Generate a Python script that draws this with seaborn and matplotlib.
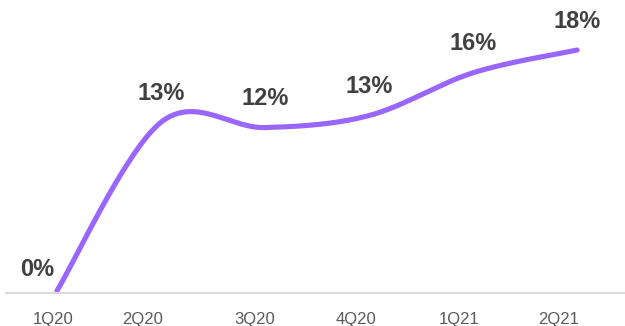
import numpy as np
import pandas as pd
import matplotlib
matplotlib.use("Agg")
import matplotlib.pyplot as plt
import seaborn as sns

# Quarterly values (%)
quarters = ["1Q20", "2Q20", "3Q20", "4Q20", "1Q21", "2Q21"]
values = [0.0, 12.6, 12.2, 13.1, 16.3, 18.0]

# Where each quarter label sits along the category axis
tick_positions = [-0.04, 0.82, 1.90, 2.87, 3.87, 4.82]

LINE_COLOR = "#9966FF"
LABEL_COLOR = "#404040"
TICK_COLOR = "#595959"
AXIS_COLOR = "#D9D9D9"


def smooth_path(xs, ys, steps=60):
    """Cubic Bezier smoothing through every point (spreadsheet-style smoothed line)."""
    pts = np.column_stack([xs, ys]).astype(float)
    n = len(pts)
    out = [pts[0]]
    t = np.linspace(0, 1, steps)[1:, None]
    for i in range(n - 1):
        p0 = pts[i - 1] if i > 0 else pts[i]
        p1, p2 = pts[i], pts[i + 1]
        p3 = pts[i + 2] if i + 2 < n else pts[i + 1]
        c1 = p1 + (p2 - p0) / 6.0
        c2 = p2 - (p3 - p1) / 6.0
        seg = ((1 - t) ** 3) * p1 + 3 * ((1 - t) ** 2) * t * c1 \
            + 3 * (1 - t) * t ** 2 * c2 + t ** 3 * p2
        out.extend(seg)
    out = np.array(out)
    return out[:, 0], out[:, 1]


sns.set_theme(style="white")
plt.rcParams["font.family"] = ["Liberation Sans", "DejaVu Sans"]

fig = plt.figure(figsize=(6.25, 3.26), dpi=100)
ax = fig.add_axes([6 / 625, 33 / 326, 619 / 625, 293 / 326])

idx = np.arange(len(quarters))
sx, sy = smooth_path(idx, values)
curve = pd.DataFrame({"pos": sx, "value": sy})
sns.lineplot(data=curve, x="pos", y="value", ax=ax, color=LINE_COLOR,
             linewidth=3.7, sort=False, estimator=None,
             solid_capstyle="round")

# Value labels above each point
for i, v in enumerate(values):
    if i == 0:
        offset = (-14.4, 10.6)
    else:
        offset = (0, 16.2)
    ax.annotate(f"{v:.0f}%", (i, v), xytext=offset, textcoords="offset points",
                ha="center", va="baseline", fontsize=17, fontweight="bold",
                color=LABEL_COLOR)

ax.set_xlim(-0.49, 5.46)
ax.set_ylim(-0.17, 21.74)
ax.set_xticks(tick_positions)
ax.set_xticklabels(quarters, fontsize=12, color=TICK_COLOR)
ax.tick_params(axis="x", length=0, pad=13.5)
ax.set_yticks([])
ax.set_xlabel("")
ax.set_ylabel("")

for side in ["top", "left", "right"]:
    ax.spines[side].set_visible(False)
ax.spines["bottom"].set_color(AXIS_COLOR)
ax.spines["bottom"].set_linewidth(1.5)

fig.savefig("out.png", dpi=100, facecolor="white")
